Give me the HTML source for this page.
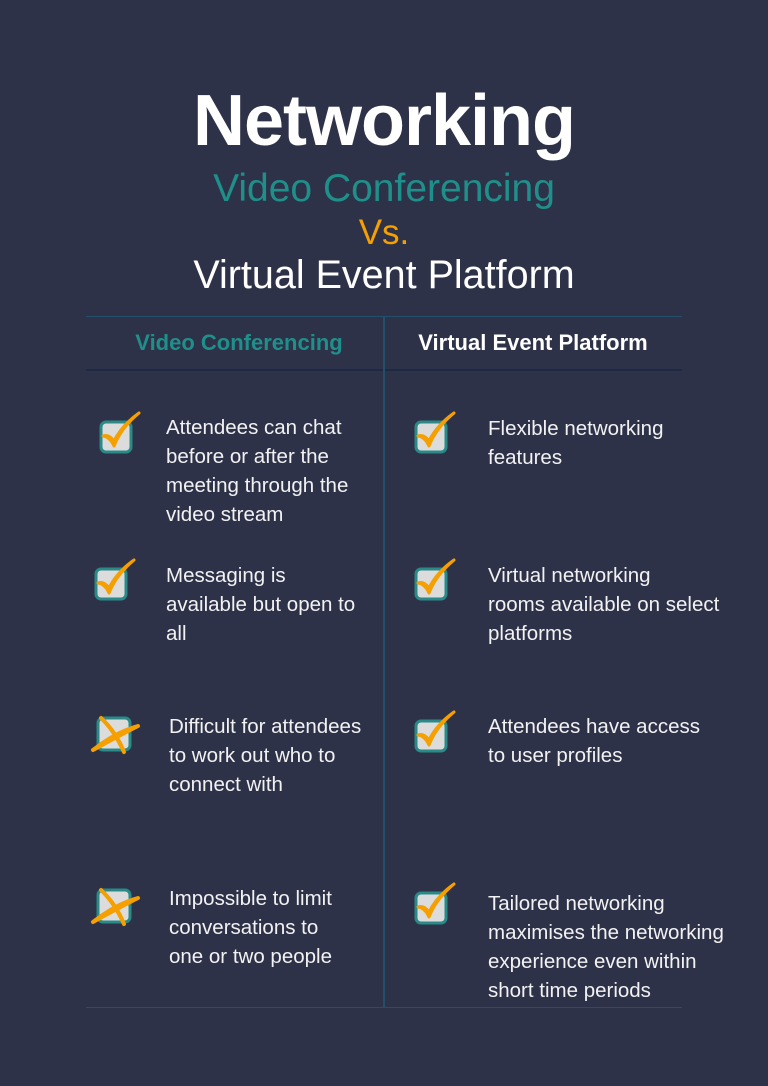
<!DOCTYPE html>
<html><head><meta charset="utf-8"><style>
body{margin:0;width:768px;height:1086px;background:#2e3249;position:relative;overflow:hidden;font-family:"Liberation Sans",sans-serif;color:#fff}
.c{position:absolute;left:0;width:768px;text-align:center;white-space:nowrap}
.t{position:absolute;font-size:20.5px;line-height:29px;color:#f2f2f2;white-space:nowrap}
.ln{position:absolute;background:#22506b}
svg{position:absolute}
</style></head><body>
<div class="c" style="top:80px;font-size:72px;font-weight:bold;letter-spacing:-1px">Networking</div>
<div class="c" style="top:167px;font-size:39px;color:#1f8f8a">Video Conferencing</div>
<div class="c" style="top:213px;font-size:35px;color:#f5a000">Vs.</div>
<div class="c" style="top:253px;font-size:39.5px">Virtual Event Platform</div>
<div class="ln" style="left:86px;top:316px;width:596px;height:1px"></div>
<div class="ln" style="left:86px;top:369px;width:596px;height:2px;background:#1c2a45"></div>
<div class="ln" style="left:86px;top:1007px;width:596px;height:1px"></div>
<div class="ln" style="left:383px;top:317px;width:2px;height:690px"></div>
<div style="position:absolute;left:90px;width:298px;top:330px;text-align:center;font-size:22px;font-weight:bold;color:#1f8f8a">Video Conferencing</div>
<div style="position:absolute;left:384px;width:298px;top:330px;text-align:center;font-size:22px;font-weight:bold">Virtual Event Platform</div>

<svg width="0" height="0"><defs>
<g id="ck"><rect x="2" y="10" width="30" height="30" rx="5" fill="#dcdcdc" stroke="#2a8a88" stroke-width="3"/><path d="M4 24 Q11 25 15 34 Q22 16 40 1 Q23 13 15 29 Q10 22 4 24Z" fill="#f5a000" stroke="#f5a000" stroke-width="3" stroke-linejoin="round"/></g>
<g id="x"><rect x="2" y="2" width="32" height="32" rx="5" fill="#dcdcdc" stroke="#2a8a88" stroke-width="3"/><path d="M5 2 Q18 14 28 36 Q20 16 5 2Z M42 10 Q20 16 -3 34 Q22 20 42 10Z" fill="#f5a000" stroke="#f5a000" stroke-width="4" stroke-linejoin="round"/></g>
</defs></svg>
<svg style="left:99px;top:412px" width="46" height="46" overflow="visible"><use href="#ck"/></svg>
<svg style="left:94px;top:559px" width="46" height="46" overflow="visible"><use href="#ck"/></svg>
<svg style="left:414px;top:412px" width="46" height="46" overflow="visible"><use href="#ck"/></svg>
<svg style="left:414px;top:559px" width="46" height="46" overflow="visible"><use href="#ck"/></svg>
<svg style="left:414px;top:711px" width="46" height="46" overflow="visible"><use href="#ck"/></svg>
<svg style="left:414px;top:883px" width="46" height="46" overflow="visible"><use href="#ck"/></svg>
<svg style="left:96px;top:716px" width="46" height="46" overflow="visible"><use href="#x"/></svg>
<svg style="left:96px;top:888px" width="46" height="46" overflow="visible"><use href="#x"/></svg>

<div class="t" style="left:166px;top:413px">Attendees can chat<br>before or after the<br>meeting through the<br>video stream</div>
<div class="t" style="left:166px;top:561px">Messaging is<br>available but open to<br>all</div>
<div class="t" style="left:169px;top:712px">Difficult for attendees<br>to work out who to<br>connect with</div>
<div class="t" style="left:169px;top:884px">Impossible to limit<br>conversations to<br>one or two people</div>
<div class="t" style="left:488px;top:414px">Flexible networking<br>features</div>
<div class="t" style="left:488px;top:561px">Virtual networking<br>rooms available on select<br>platforms</div>
<div class="t" style="left:488px;top:712px">Attendees have access<br>to user profiles</div>
<div class="t" style="left:488px;top:889px">Tailored networking<br>maximises the networking<br>experience even within<br>short time periods</div>
</body></html>
